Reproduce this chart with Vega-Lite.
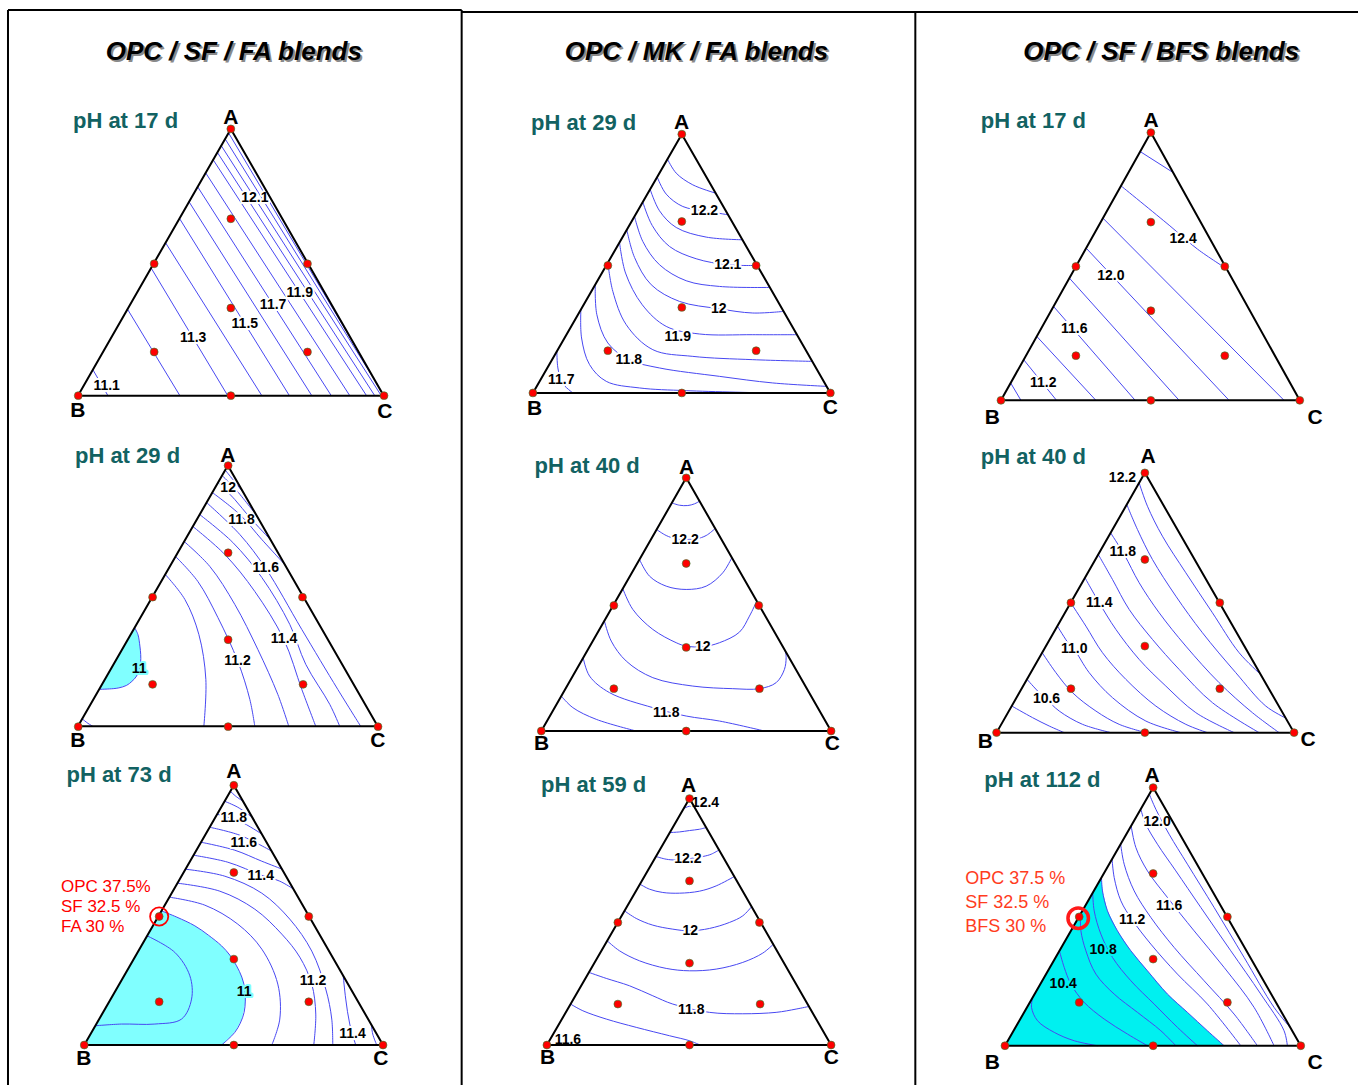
{
"$schema": "https://vega.github.io/schema/vega-lite/v6.json",
"width": 1359, "height": 1086,
"autosize": {"type": "fit", "contains": "padding"},
"padding": 0,
"background": "white",
"config": {"view": {"stroke": null}, "text": {"font": "Liberation Sans"}},
"datasets": {
"frame": [
{"x":8,"y":10,"x2":462,"y2":10},{"x":462,"y":12,"x2":1359,"y2":12},{"x":8,"y":10,"x2":8,"y2":1086},{"x":462,"y":10,"x2":462,"y2":1086},{"x":916,"y":12,"x2":916,"y2":1086}],
"cyan": [
{"g":"P2","x":99.3,"yt":690,"yb":690},{"g":"P2","x":105,"yt":680,"yb":689.6},{"g":"P2","x":113.3,"yt":665.6,"yb":689.3},{"g":"P2","x":119,"yt":655.7,"yb":688.5},{"g":"P2","x":126.7,"yt":642.3,"yb":686},{"g":"P2","x":132,"yt":633,"yb":682},{"g":"P2","x":134.7,"yt":628.3,"yb":679},{"g":"P2","x":136.7,"yt":632.4,"yb":676.7},{"g":"P2","x":138,"yt":635,"yb":673},{"g":"P2","x":139,"yt":640.9,"yb":670},{"g":"P2","x":140,"yt":646.7,"yb":666},{"g":"P2","x":140.8,"yt":655,"yb":660},
{"g":"P3","x":84.3,"yt":1046,"yb":1046},{"g":"P3","x":95,"yt":1027.4,"yb":1046},{"g":"P3","x":110,"yt":1001.4,"yb":1046},{"g":"P3","x":125,"yt":975.3,"yb":1046},{"g":"P3","x":140,"yt":949.3,"yb":1046},{"g":"P3","x":150,"yt":931.9,"yb":1046},{"g":"P3","x":161.6,"yt":911.7,"yb":1046},{"g":"P3","x":177,"yt":918,"yb":1046},{"g":"P3","x":195,"yt":926.7,"yb":1046},{"g":"P3","x":208.5,"yt":936,"yb":1046},{"g":"P3","x":221.7,"yt":946.7,"yb":1046},{"g":"P3","x":230,"yt":956,"yb":1038.5},{"g":"P3","x":236.7,"yt":966.7,"yb":1030.4},{"g":"P3","x":242,"yt":978,"yb":1019.8},{"g":"P3","x":245,"yt":990,"yb":1006.7},{"g":"P3","x":245.5,"yt":1000,"yb":1002},
{"g":"P9","x":1005.7,"yt":1046.7,"yb":1046.7},{"g":"P9","x":1020,"yt":1021.8,"yb":1046.7},{"g":"P9","x":1040,"yt":986.9,"yb":1046.7},{"g":"P9","x":1060,"yt":952.1,"yb":1046.7},{"g":"P9","x":1080,"yt":917.2,"yb":1046.7},{"g":"P9","x":1095,"yt":891.1,"yb":1046.7},{"g":"P9","x":1102.3,"yt":878.3,"yb":1046.7},{"g":"P9","x":1103.3,"yt":891.7,"yb":1046.7},{"g":"P9","x":1108.3,"yt":911.7,"yb":1046.7},{"g":"P9","x":1118.3,"yt":931.7,"yb":1046.7},{"g":"P9","x":1131.7,"yt":951.7,"yb":1046.7},{"g":"P9","x":1148.3,"yt":971.7,"yb":1046.7},{"g":"P9","x":1168.3,"yt":995,"yb":1046.7},{"g":"P9","x":1188.3,"yt":1013.3,"yb":1046.7},{"g":"P9","x":1208.3,"yt":1031.7,"yb":1046.7},{"g":"P9","x":1225,"yt":1046.7,"yb":1046.7}],
"lines": [
{"id":"1a","i":0,"x":92.9,"y":370},{"id":"1a","i":1,"x":108,"y":396},
{"id":"1b","i":0,"x":127.6,"y":309.5},{"id":"1b","i":1,"x":180,"y":396},
{"id":"1c","i":0,"x":151.2,"y":268.2},{"id":"1c","i":1,"x":227.9,"y":396},
{"id":"1d","i":0,"x":165.7,"y":243},{"id":"1d","i":1,"x":262,"y":396},
{"id":"1e","i":0,"x":179.6,"y":218.6},{"id":"1e","i":1,"x":289.6,"y":396},
{"id":"1f","i":0,"x":189.2,"y":202},{"id":"1f","i":1,"x":312,"y":396},
{"id":"1g","i":0,"x":197.8,"y":187},{"id":"1g","i":1,"x":331.5,"y":396},
{"id":"1h","i":0,"x":205.8,"y":173},{"id":"1h","i":1,"x":350,"y":396},
{"id":"1i","i":0,"x":213.3,"y":159.9},{"id":"1i","i":1,"x":366.8,"y":396},
{"id":"1j","i":0,"x":217.5,"y":152.5},{"id":"1j","i":1,"x":375,"y":396},
{"id":"1k","i":0,"x":221.4,"y":145.8},{"id":"1k","i":1,"x":381.5,"y":396},
{"id":"1l","i":0,"x":225.3,"y":139},{"id":"1l","i":1,"x":377.7,"y":385},
{"id":"1m","i":0,"x":228.7,"y":133},{"id":"1m","i":1,"x":361.1,"y":356},
{"id":"2a","i":0,"x":165.4,"y":575},{"id":"2a","i":1,"x":185,"y":600},{"id":"2a","i":2,"x":199,"y":635},{"id":"2a","i":3,"x":206,"y":680},{"id":"2a","i":4,"x":204,"y":727},
{"id":"2b","i":0,"x":175.7,"y":557},{"id":"2b","i":1,"x":198,"y":582},{"id":"2b","i":2,"x":218,"y":618},{"id":"2b","i":3,"x":238,"y":662},{"id":"2b","i":4,"x":250,"y":700},{"id":"2b","i":5,"x":255,"y":727},
{"id":"2c","i":0,"x":184.3,"y":542},{"id":"2c","i":1,"x":210,"y":567},{"id":"2c","i":2,"x":235,"y":605},{"id":"2c","i":3,"x":258,"y":650},{"id":"2c","i":4,"x":278,"y":695},{"id":"2c","i":5,"x":289,"y":727},
{"id":"2d","i":0,"x":193,"y":527},{"id":"2d","i":1,"x":225,"y":555},{"id":"2d","i":2,"x":255,"y":592},{"id":"2d","i":3,"x":284,"y":640},{"id":"2d","i":4,"x":302,"y":690},{"id":"2d","i":5,"x":316,"y":727},
{"id":"2e","i":0,"x":199.8,"y":515},{"id":"2e","i":1,"x":233,"y":543},{"id":"2e","i":2,"x":262,"y":578},{"id":"2e","i":3,"x":290,"y":625},{"id":"2e","i":4,"x":306,"y":665},{"id":"2e","i":5,"x":330,"y":705},{"id":"2e","i":6,"x":340,"y":727},
{"id":"2f","i":0,"x":206.7,"y":503},{"id":"2f","i":1,"x":240,"y":535},{"id":"2f","i":2,"x":266,"y":569},{"id":"2f","i":3,"x":302,"y":630},{"id":"2f","i":4,"x":338,"y":690},{"id":"2f","i":5,"x":361,"y":727},
{"id":"2g","i":0,"x":212.5,"y":493},{"id":"2g","i":1,"x":240,"y":515},{"id":"2g","i":2,"x":262,"y":540},{"id":"2g","i":3,"x":284.9,"y":565},
{"id":"2h","i":0,"x":218.2,"y":483},{"id":"2h","i":1,"x":235,"y":500},{"id":"2h","i":2,"x":250,"y":518},{"id":"2h","i":3,"x":270.5,"y":540},
{"id":"2i","i":0,"x":222.3,"y":476},{"id":"2i","i":1,"x":236,"y":490},{"id":"2i","i":2,"x":256,"y":515},
{"id":"2j","i":0,"x":225.4,"y":470.5},{"id":"2j","i":1,"x":233,"y":480},{"id":"2j","i":2,"x":243.5,"y":493},
{"id":"2k","i":0,"x":134.7,"y":628.3},{"id":"2k","i":1,"x":138,"y":635},{"id":"2k","i":2,"x":140,"y":646.7},{"id":"2k","i":3,"x":140.8,"y":655},{"id":"2k","i":4,"x":140.7,"y":663.3},{"id":"2k","i":5,"x":139,"y":670},{"id":"2k","i":6,"x":136.7,"y":676.7},{"id":"2k","i":7,"x":132,"y":682},{"id":"2k","i":8,"x":126.7,"y":686},{"id":"2k","i":9,"x":119,"y":688.5},{"id":"2k","i":10,"x":113.3,"y":689.3},{"id":"2k","i":11,"x":99.3,"y":690},
{"id":"2l","i":0,"x":82.3,"y":719.5},{"id":"2l","i":1,"x":88,"y":724},{"id":"2l","i":2,"x":93,"y":727},
{"id":"3a","i":0,"x":161.6,"y":911.7},{"id":"3a","i":1,"x":177,"y":918},{"id":"3a","i":2,"x":195,"y":926.7},{"id":"3a","i":3,"x":208.5,"y":936},{"id":"3a","i":4,"x":221.7,"y":946.7},{"id":"3a","i":5,"x":230,"y":956},{"id":"3a","i":6,"x":236.7,"y":966.7},{"id":"3a","i":7,"x":242,"y":978},{"id":"3a","i":8,"x":245,"y":990},{"id":"3a","i":9,"x":245.5,"y":1002},{"id":"3a","i":10,"x":244.3,"y":1013.3},{"id":"3a","i":11,"x":240.5,"y":1024},{"id":"3a","i":12,"x":235,"y":1033.3},{"id":"3a","i":13,"x":228.5,"y":1040},{"id":"3a","i":14,"x":221.7,"y":1046},
{"id":"3b","i":0,"x":147.2,"y":936.7},{"id":"3b","i":1,"x":175,"y":953.3},{"id":"3b","i":2,"x":190,"y":976.7},{"id":"3b","i":3,"x":191.7,"y":1000},{"id":"3b","i":4,"x":181.7,"y":1020},{"id":"3b","i":5,"x":155,"y":1025},{"id":"3b","i":6,"x":121.7,"y":1025},{"id":"3b","i":7,"x":95.4,"y":1026.7},
{"id":"3c","i":0,"x":169.5,"y":898},{"id":"3c","i":1,"x":205,"y":906},{"id":"3c","i":2,"x":238,"y":925},{"id":"3c","i":3,"x":262,"y":950},{"id":"3c","i":4,"x":278,"y":985},{"id":"3c","i":5,"x":280,"y":1020},{"id":"3c","i":6,"x":272,"y":1046},
{"id":"3d","i":0,"x":177.6,"y":884},{"id":"3d","i":1,"x":220,"y":892},{"id":"3d","i":2,"x":255,"y":910},{"id":"3d","i":3,"x":282,"y":935},{"id":"3d","i":4,"x":300,"y":958},{"id":"3d","i":5,"x":312,"y":985},{"id":"3d","i":6,"x":316,"y":1015},{"id":"3d","i":7,"x":314,"y":1046},
{"id":"3e","i":0,"x":185.6,"y":870},{"id":"3e","i":1,"x":225,"y":877},{"id":"3e","i":2,"x":262,"y":894},{"id":"3e","i":3,"x":290,"y":920},{"id":"3e","i":4,"x":312,"y":952},{"id":"3e","i":5,"x":326,"y":990},{"id":"3e","i":6,"x":332,"y":1020},{"id":"3e","i":7,"x":333,"y":1046},
{"id":"3f","i":0,"x":193.7,"y":856},{"id":"3f","i":1,"x":228,"y":863},{"id":"3f","i":2,"x":261.7,"y":876},{"id":"3f","i":3,"x":280,"y":882},{"id":"3f","i":4,"x":293.9,"y":890},
{"id":"3g","i":0,"x":356,"y":1046},{"id":"3g","i":1,"x":350,"y":1025},{"id":"3g","i":2,"x":346,"y":1000},{"id":"3g","i":3,"x":343.4,"y":976},
{"id":"3h","i":0,"x":201.2,"y":843},{"id":"3h","i":1,"x":235,"y":851},{"id":"3h","i":2,"x":262,"y":862},{"id":"3h","i":3,"x":282.4,"y":870},
{"id":"3i","i":0,"x":377,"y":1046},{"id":"3i","i":1,"x":373,"y":1035},{"id":"3i","i":2,"x":371.6,"y":1025},
{"id":"3j","i":0,"x":209.8,"y":828},{"id":"3j","i":1,"x":240,"y":836},{"id":"3j","i":2,"x":272,"y":852},
{"id":"3k","i":0,"x":217.3,"y":815},{"id":"3k","i":1,"x":240,"y":822},{"id":"3k","i":2,"x":262.2,"y":835},
{"id":"3l","i":0,"x":224.8,"y":802},{"id":"3l","i":1,"x":238,"y":808},{"id":"3l","i":2,"x":252.4,"y":818},
{"id":"3m","i":0,"x":230.5,"y":792},{"id":"3m","i":1,"x":236,"y":797},{"id":"3m","i":2,"x":243.2,"y":802},
{"id":"4a","i":0,"x":668,"y":159.3},{"id":"4a","i":1,"x":676.7,"y":173.3},{"id":"4a","i":2,"x":693.3,"y":185},{"id":"4a","i":3,"x":716,"y":193.3},
{"id":"4b","i":0,"x":657.7,"y":177.3},{"id":"4b","i":1,"x":666.7,"y":194.3},{"id":"4b","i":2,"x":683.3,"y":206.7},{"id":"4b","i":3,"x":705,"y":211},{"id":"4b","i":4,"x":728.7,"y":215},
{"id":"4c","i":0,"x":650.7,"y":189.7},{"id":"4c","i":1,"x":660,"y":211},{"id":"4c","i":2,"x":676.7,"y":227.7},{"id":"4c","i":3,"x":706.7,"y":237.3},{"id":"4c","i":4,"x":743,"y":240},
{"id":"4d","i":0,"x":643.3,"y":202.3},{"id":"4d","i":1,"x":652.7,"y":225.7},{"id":"4d","i":2,"x":670,"y":246.7},{"id":"4d","i":3,"x":696.7,"y":259},{"id":"4d","i":4,"x":728.3,"y":265},{"id":"4d","i":5,"x":757.7,"y":265.7},
{"id":"4e","i":0,"x":635,"y":216.7},{"id":"4e","i":1,"x":643.3,"y":241.7},{"id":"4e","i":2,"x":660,"y":265},{"id":"4e","i":3,"x":686.7,"y":281},{"id":"4e","i":4,"x":720,"y":286.7},{"id":"4e","i":5,"x":770.3,"y":287.7},
{"id":"4f","i":0,"x":627.3,"y":230},{"id":"4f","i":1,"x":635,"y":257.7},{"id":"4f","i":2,"x":651.7,"y":285},{"id":"4f","i":3,"x":680,"y":301.7},{"id":"4f","i":4,"x":719.3,"y":309},{"id":"4f","i":5,"x":753.3,"y":313.3},{"id":"4f","i":6,"x":784,"y":311.7},
{"id":"4g","i":0,"x":620,"y":242.7},{"id":"4g","i":1,"x":626,"y":273.3},{"id":"4g","i":2,"x":642.7,"y":305},{"id":"4g","i":3,"x":666.7,"y":326.7},{"id":"4g","i":4,"x":700,"y":334.3},{"id":"4g","i":5,"x":753.3,"y":335},{"id":"4g","i":6,"x":797.7,"y":335},
{"id":"4h","i":0,"x":608.3,"y":263},{"id":"4h","i":1,"x":613.3,"y":291.7},{"id":"4h","i":2,"x":626.7,"y":325},{"id":"4h","i":3,"x":653.3,"y":350},{"id":"4h","i":4,"x":693.3,"y":356.7},{"id":"4h","i":5,"x":753.3,"y":360},{"id":"4h","i":6,"x":812.7,"y":361.7},
{"id":"4i","i":0,"x":595.7,"y":285},{"id":"4i","i":1,"x":597.3,"y":315},{"id":"4i","i":2,"x":608.3,"y":343.3},{"id":"4i","i":3,"x":629.3,"y":360},{"id":"4i","i":4,"x":660,"y":368.3},{"id":"4i","i":5,"x":720,"y":376.7},{"id":"4i","i":6,"x":773.3,"y":383.3},{"id":"4i","i":7,"x":827,"y":386.7},
{"id":"4j","i":0,"x":581.3,"y":309.7},{"id":"4j","i":1,"x":582,"y":338.3},{"id":"4j","i":2,"x":590,"y":365},{"id":"4j","i":3,"x":606.7,"y":381.7},{"id":"4j","i":4,"x":640,"y":388.3},{"id":"4j","i":5,"x":686.7,"y":391},{"id":"4j","i":6,"x":768.3,"y":393.3},
{"id":"4k","i":0,"x":557.3,"y":351.7},{"id":"4k","i":1,"x":558.3,"y":368.3},{"id":"4k","i":2,"x":562.7,"y":383.3},{"id":"4k","i":3,"x":573.3,"y":393.3},
{"id":"5a","i":0,"x":672.3,"y":503.3},{"id":"5a","i":1,"x":680,"y":505.7},{"id":"5a","i":2,"x":688.3,"y":506},{"id":"5a","i":3,"x":695,"y":504.3},{"id":"5a","i":4,"x":700,"y":501.7},
{"id":"5b","i":0,"x":657.1,"y":530},{"id":"5b","i":1,"x":666.7,"y":536},{"id":"5b","i":2,"x":676.7,"y":539.3},{"id":"5b","i":3,"x":696.7,"y":539.3},{"id":"5b","i":4,"x":706.7,"y":536},{"id":"5b","i":5,"x":715.7,"y":529},
{"id":"5c","i":0,"x":640,"y":560},{"id":"5c","i":1,"x":650,"y":576.7},{"id":"5c","i":2,"x":666.7,"y":586.7},{"id":"5c","i":3,"x":686.7,"y":590},{"id":"5c","i":4,"x":706.7,"y":586.7},{"id":"5c","i":5,"x":723.3,"y":573.3},{"id":"5c","i":6,"x":732.3,"y":558.3},
{"id":"5d","i":0,"x":623.3,"y":589.3},{"id":"5d","i":1,"x":633.3,"y":610},{"id":"5d","i":2,"x":653.3,"y":630},{"id":"5d","i":3,"x":676.7,"y":643.3},{"id":"5d","i":4,"x":686.7,"y":646.7},{"id":"5d","i":5,"x":703.3,"y":647.3},{"id":"5d","i":6,"x":720,"y":643.3},{"id":"5d","i":7,"x":740,"y":632.7},{"id":"5d","i":8,"x":750,"y":616.7},{"id":"5d","i":9,"x":757.3,"y":601.7},
{"id":"5e","i":0,"x":604.8,"y":621.3},{"id":"5e","i":1,"x":611.7,"y":641.7},{"id":"5e","i":2,"x":626.7,"y":661.7},{"id":"5e","i":3,"x":653.3,"y":678.3},{"id":"5e","i":4,"x":693.3,"y":686.7},{"id":"5e","i":5,"x":733.3,"y":689.3},{"id":"5e","i":6,"x":760,"y":689.3},{"id":"5e","i":7,"x":776.7,"y":683.3},{"id":"5e","i":8,"x":785,"y":670},{"id":"5e","i":9,"x":786.7,"y":658.3},{"id":"5e","i":10,"x":785.9,"y":651.7},
{"id":"5f","i":0,"x":583.6,"y":658.3},{"id":"5f","i":1,"x":590,"y":676.7},{"id":"5f","i":2,"x":610,"y":693.3},{"id":"5f","i":3,"x":653.3,"y":708.3},{"id":"5f","i":4,"x":686.7,"y":716.7},{"id":"5f","i":5,"x":720,"y":721.7},{"id":"5f","i":6,"x":765,"y":731.7},
{"id":"5g","i":0,"x":561.7,"y":696.7},{"id":"5g","i":1,"x":573.3,"y":708.3},{"id":"5g","i":2,"x":596.7,"y":720},{"id":"5g","i":3,"x":636.7,"y":731.7},
{"id":"6a","i":0,"x":684.2,"y":809.3},{"id":"6a","i":1,"x":690,"y":807},{"id":"6a","i":2,"x":695.2,"y":808.3},
{"id":"6b","i":0,"x":670.3,"y":833.3},{"id":"6b","i":1,"x":680,"y":832.7},{"id":"6b","i":2,"x":690,"y":831.3},{"id":"6b","i":3,"x":700,"y":830},{"id":"6b","i":4,"x":706.7,"y":828.3},
{"id":"6c","i":0,"x":656.5,"y":857.3},{"id":"6c","i":1,"x":666.7,"y":860},{"id":"6c","i":2,"x":676.7,"y":860.7},{"id":"6c","i":3,"x":703.3,"y":857.3},{"id":"6c","i":4,"x":711.7,"y":855},{"id":"6c","i":5,"x":719.6,"y":850.7},
{"id":"6d","i":0,"x":640.5,"y":885},{"id":"6d","i":1,"x":650,"y":890},{"id":"6d","i":2,"x":663.3,"y":893.3},{"id":"6d","i":3,"x":680,"y":894},{"id":"6d","i":4,"x":700,"y":892},{"id":"6d","i":5,"x":716.7,"y":886.7},{"id":"6d","i":6,"x":734.9,"y":877.3},
{"id":"6e","i":0,"x":625,"y":911.7},{"id":"6e","i":1,"x":636.7,"y":919.3},{"id":"6e","i":2,"x":653.3,"y":926},{"id":"6e","i":3,"x":673.3,"y":930},{"id":"6e","i":4,"x":690,"y":931.7},{"id":"6e","i":5,"x":710,"y":929.3},{"id":"6e","i":6,"x":730,"y":923.3},{"id":"6e","i":7,"x":743.3,"y":916.7},{"id":"6e","i":8,"x":752.3,"y":907.3},
{"id":"6f","i":0,"x":607.7,"y":941.7},{"id":"6f","i":1,"x":620,"y":951.7},{"id":"6f","i":2,"x":640,"y":961.7},{"id":"6f","i":3,"x":666.7,"y":969.3},{"id":"6f","i":4,"x":690,"y":971.7},{"id":"6f","i":5,"x":716.7,"y":970},{"id":"6f","i":6,"x":743.3,"y":963.3},{"id":"6f","i":7,"x":763.3,"y":954},{"id":"6f","i":8,"x":774,"y":945},
{"id":"6g","i":0,"x":589.4,"y":973.3},{"id":"6g","i":1,"x":606.7,"y":979.3},{"id":"6g","i":2,"x":630,"y":986.7},{"id":"6g","i":3,"x":653.3,"y":996.7},{"id":"6g","i":4,"x":673.3,"y":1005},{"id":"6g","i":5,"x":710,"y":1013.3},{"id":"6g","i":6,"x":743.3,"y":1014.7},{"id":"6g","i":7,"x":776.7,"y":1013.3},{"id":"6g","i":8,"x":796.7,"y":1010},{"id":"6g","i":9,"x":809.9,"y":1007.3},
{"id":"6h","i":0,"x":571,"y":1005},{"id":"6h","i":1,"x":583.3,"y":1011.7},{"id":"6h","i":2,"x":606.7,"y":1020},{"id":"6h","i":3,"x":636.7,"y":1028.3},{"id":"6h","i":4,"x":670,"y":1036.7},{"id":"6h","i":5,"x":690,"y":1041.7},{"id":"6h","i":6,"x":700.7,"y":1046},
{"id":"7a","i":0,"x":1141,"y":151.7},{"id":"7a","i":1,"x":1174,"y":172.7},
{"id":"7b","i":0,"x":1121.8,"y":186},{"id":"7b","i":1,"x":1170.7,"y":226},{"id":"7b","i":2,"x":1198.3,"y":249.3},{"id":"7b","i":3,"x":1227.9,"y":269.3},
{"id":"7c","i":0,"x":1103.7,"y":218.3},{"id":"7c","i":1,"x":1285,"y":400.7},
{"id":"7d","i":0,"x":1086.9,"y":248.3},{"id":"7d","i":1,"x":1230,"y":400.7},
{"id":"7e","i":0,"x":1070.1,"y":278.3},{"id":"7e","i":1,"x":1180,"y":400.7},
{"id":"7f","i":0,"x":1054.3,"y":306.7},{"id":"7f","i":1,"x":1136,"y":400.7},
{"id":"7g","i":0,"x":1037.5,"y":336.7},{"id":"7g","i":1,"x":1096.7,"y":400.7},
{"id":"7h","i":0,"x":1024.4,"y":360},{"id":"7h","i":1,"x":1057.3,"y":400.7},
{"id":"7i","i":0,"x":1011.4,"y":383.3},{"id":"7i","i":1,"x":1021.7,"y":400.7},
{"id":"8a","i":0,"x":1012.6,"y":706.7},{"id":"8a","i":1,"x":1033.3,"y":718.3},{"id":"8a","i":2,"x":1050,"y":726.7},{"id":"8a","i":3,"x":1065,"y":733.3},
{"id":"8b","i":0,"x":1027.8,"y":680},{"id":"8b","i":1,"x":1040,"y":693.3},{"id":"8b","i":2,"x":1047.3,"y":700},{"id":"8b","i":3,"x":1060,"y":711.7},{"id":"8b","i":4,"x":1083.3,"y":725},{"id":"8b","i":5,"x":1111.7,"y":733.3},
{"id":"8c","i":0,"x":1043,"y":653.3},{"id":"8c","i":1,"x":1056.7,"y":673.3},{"id":"8c","i":2,"x":1073.3,"y":693.3},{"id":"8c","i":3,"x":1096.7,"y":711.7},{"id":"8c","i":4,"x":1120,"y":725},{"id":"8c","i":5,"x":1146.7,"y":733.3},
{"id":"8d","i":0,"x":1058.2,"y":626.7},{"id":"8d","i":1,"x":1070,"y":645},{"id":"8d","i":2,"x":1075,"y":650},{"id":"8d","i":3,"x":1090,"y":673.3},{"id":"8d","i":4,"x":1113.3,"y":698.3},{"id":"8d","i":5,"x":1146.7,"y":721.7},{"id":"8d","i":6,"x":1181.7,"y":733.3},
{"id":"8e","i":0,"x":1071.5,"y":603.3},{"id":"8e","i":1,"x":1086.7,"y":626.7},{"id":"8e","i":2,"x":1103.3,"y":653.3},{"id":"8e","i":3,"x":1126.7,"y":680},{"id":"8e","i":4,"x":1156.7,"y":706.7},{"id":"8e","i":5,"x":1186.7,"y":725},{"id":"8e","i":6,"x":1208.3,"y":733.3},
{"id":"8f","i":0,"x":1085.8,"y":578.3},{"id":"8f","i":1,"x":1100,"y":603.3},{"id":"8f","i":2,"x":1116.7,"y":630},{"id":"8f","i":3,"x":1140,"y":660},{"id":"8f","i":4,"x":1166.7,"y":686.7},{"id":"8f","i":5,"x":1196.7,"y":713.3},{"id":"8f","i":6,"x":1235,"y":733.3},
{"id":"8g","i":0,"x":1099.1,"y":555},{"id":"8g","i":1,"x":1113.3,"y":580},{"id":"8g","i":2,"x":1130,"y":610},{"id":"8g","i":3,"x":1153.3,"y":640},{"id":"8g","i":4,"x":1180,"y":670},{"id":"8g","i":5,"x":1213.3,"y":703.3},{"id":"8g","i":6,"x":1260,"y":733.3},
{"id":"8h","i":0,"x":1111.4,"y":533.3},{"id":"8h","i":1,"x":1125,"y":555},{"id":"8h","i":2,"x":1140,"y":583.3},{"id":"8h","i":3,"x":1160,"y":613.3},{"id":"8h","i":4,"x":1186.7,"y":646.7},{"id":"8h","i":5,"x":1220,"y":683.3},{"id":"8h","i":6,"x":1253.3,"y":713.3},{"id":"8h","i":7,"x":1280,"y":733.3},
{"id":"8i","i":0,"x":1127.6,"y":505},{"id":"8i","i":1,"x":1138.3,"y":530},{"id":"8i","i":2,"x":1153.3,"y":560},{"id":"8i","i":3,"x":1176.7,"y":596.7},{"id":"8i","i":4,"x":1203.3,"y":633.3},{"id":"8i","i":5,"x":1236.7,"y":673.3},{"id":"8i","i":6,"x":1266.7,"y":706.7},{"id":"8i","i":7,"x":1286.6,"y":718.7},
{"id":"8j","i":0,"x":1140,"y":483.3},{"id":"8j","i":1,"x":1148.3,"y":506.7},{"id":"8j","i":2,"x":1163.3,"y":536.7},{"id":"8j","i":3,"x":1186.7,"y":573.3},{"id":"8j","i":4,"x":1213.3,"y":613.3},{"id":"8j","i":5,"x":1240,"y":653.3},{"id":"8j","i":6,"x":1261.5,"y":675},
{"id":"9a","i":0,"x":1150.2,"y":795},{"id":"9a","i":1,"x":1156.7,"y":810},{"id":"9a","i":2,"x":1170,"y":835},{"id":"9a","i":3,"x":1188.3,"y":865},{"id":"9a","i":4,"x":1215,"y":908.3},{"id":"9a","i":5,"x":1245,"y":958.3},{"id":"9a","i":6,"x":1275,"y":1008.3},{"id":"9a","i":7,"x":1292.5,"y":1030},
{"id":"9b","i":0,"x":1141.6,"y":810},{"id":"9b","i":1,"x":1146.7,"y":825},{"id":"9b","i":2,"x":1158.3,"y":845},{"id":"9b","i":3,"x":1176.7,"y":871.7},{"id":"9b","i":4,"x":1201.7,"y":908.3},{"id":"9b","i":5,"x":1231.7,"y":951.7},{"id":"9b","i":6,"x":1261.7,"y":995},{"id":"9b","i":7,"x":1285,"y":1031.7},{"id":"9b","i":8,"x":1288.3,"y":1046.7},
{"id":"9c","i":0,"x":1132,"y":826.7},{"id":"9c","i":1,"x":1136.7,"y":848.3},{"id":"9c","i":2,"x":1148.3,"y":871.7},{"id":"9c","i":3,"x":1168.3,"y":898.3},{"id":"9c","i":4,"x":1195,"y":931.7},{"id":"9c","i":5,"x":1225,"y":968.3},{"id":"9c","i":6,"x":1255,"y":1008.3},{"id":"9c","i":7,"x":1275,"y":1046.7},
{"id":"9d","i":0,"x":1121.5,"y":845},{"id":"9d","i":1,"x":1125,"y":865},{"id":"9d","i":2,"x":1135,"y":891.7},{"id":"9d","i":3,"x":1151.7,"y":918.3},{"id":"9d","i":4,"x":1175,"y":948.3},{"id":"9d","i":5,"x":1205,"y":981.7},{"id":"9d","i":6,"x":1235,"y":1015},{"id":"9d","i":7,"x":1258.3,"y":1046.7},
{"id":"9e","i":0,"x":1112.9,"y":860},{"id":"9e","i":1,"x":1115,"y":878.3},{"id":"9e","i":2,"x":1121.7,"y":901.7},{"id":"9e","i":3,"x":1133.3,"y":921},{"id":"9e","i":4,"x":1151.7,"y":945},{"id":"9e","i":5,"x":1178.3,"y":975},{"id":"9e","i":6,"x":1208.3,"y":1005},{"id":"9e","i":7,"x":1241.7,"y":1046.7},
{"id":"9f","i":0,"x":1102.3,"y":878.3},{"id":"9f","i":1,"x":1103.3,"y":891.7},{"id":"9f","i":2,"x":1108.3,"y":911.7},{"id":"9f","i":3,"x":1118.3,"y":931.7},{"id":"9f","i":4,"x":1131.7,"y":951.7},{"id":"9f","i":5,"x":1148.3,"y":971.7},{"id":"9f","i":6,"x":1168.3,"y":995},{"id":"9f","i":7,"x":1188.3,"y":1013.3},{"id":"9f","i":8,"x":1208.3,"y":1031.7},{"id":"9f","i":9,"x":1225,"y":1046.7},
{"id":"9g","i":0,"x":1093.5,"y":893.7},{"id":"9g","i":1,"x":1095,"y":911.7},{"id":"9g","i":2,"x":1101.7,"y":935},{"id":"9g","i":3,"x":1113.3,"y":958.3},{"id":"9g","i":4,"x":1131.7,"y":981.7},{"id":"9g","i":5,"x":1155,"y":1005},{"id":"9g","i":6,"x":1178.3,"y":1028.3},{"id":"9g","i":7,"x":1198.3,"y":1046.7},
{"id":"9h","i":0,"x":1081.3,"y":915},{"id":"9h","i":1,"x":1081.7,"y":931.7},{"id":"9h","i":2,"x":1086.7,"y":951.7},{"id":"9h","i":3,"x":1096.7,"y":975},{"id":"9h","i":4,"x":1115,"y":995},{"id":"9h","i":5,"x":1138.3,"y":1013.3},{"id":"9h","i":6,"x":1161.7,"y":1031.7},{"id":"9h","i":7,"x":1176.7,"y":1046.7},
{"id":"9i","i":0,"x":1060.2,"y":951.7},{"id":"9i","i":1,"x":1065,"y":968.3},{"id":"9i","i":2,"x":1071.7,"y":985},{"id":"9i","i":3,"x":1085,"y":1003.3},{"id":"9i","i":4,"x":1105,"y":1020},{"id":"9i","i":5,"x":1128.3,"y":1035},{"id":"9i","i":6,"x":1148.3,"y":1046.7},
{"id":"9j","i":0,"x":1033.5,"y":998.3},{"id":"9j","i":1,"x":1032.3,"y":1008.3},{"id":"9j","i":2,"x":1038.3,"y":1021.7},{"id":"9j","i":3,"x":1055,"y":1033.3},{"id":"9j","i":4,"x":1075,"y":1041.7},{"id":"9j","i":5,"x":1098.3,"y":1046.7}],
"tri": [
{"id":"P1","i":0,"x":231,"y":129},{"id":"P1","i":1,"x":78,"y":396},{"id":"P1","i":2,"x":384,"y":396},{"id":"P1","i":3,"x":231,"y":129},
{"id":"P2","i":0,"x":228,"y":466},{"id":"P2","i":1,"x":78,"y":727},{"id":"P2","i":2,"x":378,"y":727},{"id":"P2","i":3,"x":228,"y":466},
{"id":"P3","i":0,"x":234,"y":786},{"id":"P3","i":1,"x":84.3,"y":1046},{"id":"P3","i":2,"x":383.3,"y":1046},{"id":"P3","i":3,"x":234,"y":786},
{"id":"P4","i":0,"x":682.3,"y":134.3},{"id":"P4","i":1,"x":533.3,"y":393.3},{"id":"P4","i":2,"x":831,"y":393.3},{"id":"P4","i":3,"x":682.3,"y":134.3},
{"id":"P5","i":0,"x":686.7,"y":478.3},{"id":"P5","i":1,"x":541.7,"y":731.7},{"id":"P5","i":2,"x":831.7,"y":731.7},{"id":"P5","i":3,"x":686.7,"y":478.3},
{"id":"P6","i":0,"x":690,"y":799.3},{"id":"P6","i":1,"x":547.3,"y":1046},{"id":"P6","i":2,"x":831.7,"y":1046},{"id":"P6","i":3,"x":690,"y":799.3},
{"id":"P7","i":0,"x":1151.7,"y":132.7},{"id":"P7","i":1,"x":1001.7,"y":400.7},{"id":"P7","i":2,"x":1300.7,"y":400.7},{"id":"P7","i":3,"x":1151.7,"y":132.7},
{"id":"P8","i":0,"x":1145.7,"y":473.3},{"id":"P8","i":1,"x":997.3,"y":733.3},{"id":"P8","i":2,"x":1295,"y":733.3},{"id":"P8","i":3,"x":1145.7,"y":473.3},
{"id":"P9","i":0,"x":1154,"y":788.3},{"id":"P9","i":1,"x":1005.7,"y":1046.7},{"id":"P9","i":2,"x":1301.7,"y":1046.7},{"id":"P9","i":3,"x":1154,"y":788.3}],
"dots": [
{"x":231,"y":129},{"x":78.3,"y":396},{"x":384.3,"y":396},{"x":154.3,"y":264},{"x":307.7,"y":264},{"x":231,"y":396},{"x":231,"y":219},{"x":231,"y":308.3},{"x":154.3,"y":352.3},{"x":307.7,"y":352.3},
{"x":228.3,"y":466},{"x":78.3,"y":727.3},{"x":378.3,"y":727.3},{"x":152.7,"y":597.7},{"x":302.7,"y":597.7},{"x":228.3,"y":727.3},{"x":228.3,"y":553.3},{"x":228.3,"y":640.3},{"x":152.7,"y":685},{"x":303.3,"y":685},
{"x":234,"y":786},{"x":84.3,"y":1046},{"x":383.3,"y":1046},{"x":159.3,"y":917.3},{"x":309,"y":917.3},{"x":234,"y":1046},{"x":234,"y":873.3},{"x":234,"y":960},{"x":159.3,"y":1002.7},{"x":309,"y":1002.7},
{"x":682.3,"y":134.3},{"x":533.3,"y":393.3},{"x":831,"y":393.3},{"x":608.3,"y":265.7},{"x":756.7,"y":265.7},{"x":682.3,"y":393.3},{"x":682.3,"y":221.7},{"x":682.3,"y":307.7},{"x":608.3,"y":351},{"x":756.7,"y":351},
{"x":686.7,"y":478.3},{"x":541.7,"y":731.7},{"x":831.7,"y":731.7},{"x":614.3,"y":606},{"x":759.3,"y":606},{"x":686.7,"y":731.7},{"x":686.7,"y":564},{"x":686.7,"y":648},{"x":614.3,"y":689.3},{"x":760,"y":689.3},
{"x":690,"y":799.3},{"x":547.3,"y":1046},{"x":831.7,"y":1046},{"x":618.3,"y":923.3},{"x":760,"y":923.3},{"x":690,"y":1046},{"x":690,"y":881.7},{"x":690,"y":964},{"x":618.3,"y":1005},{"x":760.7,"y":1005},
{"x":1151.7,"y":132.7},{"x":1001.7,"y":400.7},{"x":1300.7,"y":400.7},{"x":1076.7,"y":266.7},{"x":1225.7,"y":266.7},{"x":1151.7,"y":400.7},{"x":1151.7,"y":222.3},{"x":1151.7,"y":311},{"x":1076.7,"y":356},{"x":1225.7,"y":356},
{"x":1145.7,"y":473.3},{"x":997.3,"y":733.3},{"x":1295,"y":733.3},{"x":1071.7,"y":603.3},{"x":1220.7,"y":603.3},{"x":1145.7,"y":733.3},{"x":1145.7,"y":560},{"x":1145.7,"y":646.7},{"x":1071.7,"y":689.3},{"x":1220.7,"y":689.3},
{"x":1154,"y":788.3},{"x":1005.7,"y":1046.7},{"x":1301.7,"y":1046.7},{"x":1080,"y":917.7},{"x":1228.3,"y":917.7},{"x":1154,"y":1046.7},{"x":1154,"y":874.3},{"x":1154,"y":960},{"x":1080,"y":1003.3},{"x":1228.3,"y":1003.3}],
"clabels": [
{"x":255,"y":198.3,"t":"12.1"},{"x":300,"y":293.3,"t":"11.9"},{"x":273.3,"y":305,"t":"11.7"},{"x":245,"y":324,"t":"11.5"},{"x":193.3,"y":338.3,"t":"11.3"},{"x":106.7,"y":386.7,"t":"11.1"},
{"x":228.3,"y":488.3,"t":"12"},{"x":241.7,"y":520,"t":"11.8"},{"x":266,"y":569,"t":"11.6"},{"x":284.3,"y":640,"t":"11.4"},{"x":237.7,"y":661.7,"t":"11.2"},
{"x":234,"y":818.5,"t":"11.8"},{"x":244,"y":844,"t":"11.6"},{"x":261,"y":876.5,"t":"11.4"},{"x":313.3,"y":981.7,"t":"11.2"},{"x":352.7,"y":1035,"t":"11.4"},
{"x":705,"y":211,"t":"12.2"},{"x":728.3,"y":265,"t":"12.1"},{"x":719.3,"y":309,"t":"12"},{"x":678.3,"y":337.3,"t":"11.9"},{"x":629.3,"y":360,"t":"11.8"},{"x":561.7,"y":380,"t":"11.7"},
{"x":685.7,"y":540,"t":"12.2"},{"x":703.3,"y":647.3,"t":"12"},{"x":666.7,"y":713.3,"t":"11.8"},
{"x":706,"y":804,"t":"12.4"},{"x":688.3,"y":859.3,"t":"12.2"},{"x":690.7,"y":931.7,"t":"12"},{"x":691.7,"y":1010.7,"t":"11.8"},{"x":568.3,"y":1040.7,"t":"11.6"},
{"x":1184,"y":239.3,"t":"12.4"},{"x":1111.7,"y":276,"t":"12.0"},{"x":1075,"y":329,"t":"11.6"},{"x":1044,"y":383.3,"t":"11.2"},
{"x":1123.3,"y":478.3,"t":"12.2"},{"x":1123.5,"y":553,"t":"11.8"},{"x":1100,"y":603.3,"t":"11.4"},{"x":1075,"y":650,"t":"11.0"},{"x":1047.3,"y":700,"t":"10.6"},
{"x":1158,"y":823,"t":"12.0"},{"x":1170,"y":906.5,"t":"11.6"},{"x":1133,"y":921,"t":"11.2"}],
"clabelsLight": [
{"x":139.3,"y":669.3,"t":"11"},{"x":244.3,"y":992.7,"t":"11"}],
"clabelsDeep": [
{"x":1104,"y":951,"t":"10.8"},{"x":1064,"y":985,"t":"10.4"}],
"vlabels": [
{"x":231,"y":118,"t":"A"},{"x":78,"y":411,"t":"B"},{"x":385,"y":412,"t":"C"},
{"x":228,"y":456,"t":"A"},{"x":78,"y":742,"t":"B"},{"x":378,"y":742,"t":"C"},
{"x":234,"y":773,"t":"A"},{"x":84,"y":1060,"t":"B"},{"x":381,"y":1060,"t":"C"},
{"x":682,"y":123,"t":"A"},{"x":535,"y":409,"t":"B"},{"x":831,"y":408,"t":"C"},
{"x":687,"y":468,"t":"A"},{"x":542,"y":745,"t":"B"},{"x":833,"y":745,"t":"C"},
{"x":689,"y":787,"t":"A"},{"x":548,"y":1059,"t":"B"},{"x":832,"y":1059,"t":"C"},
{"x":1152,"y":121,"t":"A"},{"x":993,"y":418,"t":"B"},{"x":1316,"y":418,"t":"C"},
{"x":1149,"y":457,"t":"A"},{"x":986,"y":743,"t":"B"},{"x":1309,"y":741,"t":"C"},
{"x":1153,"y":777,"t":"A"},{"x":993,"y":1064,"t":"B"},{"x":1316,"y":1064,"t":"C"}],
"ptitles": [
{"x":73,"y":121,"t":"pH at 17 d"},{"x":75,"y":456.5,"t":"pH at 29 d"},{"x":66.5,"y":776,"t":"pH at 73 d"},
{"x":531.5,"y":123.5,"t":"pH at 29 d"},{"x":535,"y":466.5,"t":"pH at 40 d"},{"x":541.5,"y":786,"t":"pH at 59 d"},
{"x":981.5,"y":121,"t":"pH at 17 d"},{"x":981.5,"y":457.5,"t":"pH at 40 d"},{"x":985,"y":781,"t":"pH at 112 d"}],
"ctitles": [
{"x":234,"y":52,"t":"OPC / SF / FA  blends"},{"x":697,"y":52,"t":"OPC / MK / FA  blends"},{"x":1162,"y":52,"t":"OPC / SF / BFS blends"}]
},
"encoding": {
"x": {"field": "x", "type": "quantitative", "scale": {"domain": [0, 1359], "nice": false, "zero": false}, "axis": null},
"y": {"field": "y", "type": "quantitative", "scale": {"domain": [0, 1086], "nice": false, "zero": false, "reverse": true}, "axis": null}
},
"layer": [
{"data": {"name": "frame"}, "mark": {"type": "rule", "color": "black", "strokeWidth": 2},
 "encoding": {"x2": {"field": "x2"}, "y2": {"field": "y2"}}},
{"data": {"name": "cyan"}, "mark": {"type": "area", "opacity": 1},
 "encoding": {
  "y": {"field": "yt", "type": "quantitative", "stack": null, "scale": {"domain": [0, 1086], "nice": false, "zero": false, "reverse": true}, "axis": null},
  "y2": {"field": "yb"},
  "detail": {"field": "g"},
  "color": {"field": "g", "type": "nominal", "scale": {"domain": ["P2", "P3", "P9"], "range": ["#80ffff", "#80ffff", "#00f0f0"]}, "legend": null}}},
{"data": {"name": "lines"}, "mark": {"type": "line", "color": "#4848f2", "strokeWidth": 1, "interpolate": "catmull-rom"},
 "encoding": {"detail": {"field": "id"}, "order": {"field": "i", "type": "quantitative"}}},
{"data": {"name": "clabels"}, "mark": {"type": "text", "fontSize": 14, "fontWeight": "bold", "fill": "white", "stroke": "white", "strokeWidth": 4, "strokeJoin": "round", "baseline": "middle", "align": "center"},
 "encoding": {"text": {"field": "t"}}},
{"data": {"name": "clabelsLight"}, "mark": {"type": "text", "fontSize": 14, "fontWeight": "bold", "fill": "#80ffff", "stroke": "#80ffff", "strokeWidth": 4, "strokeJoin": "round", "baseline": "middle", "align": "center"},
 "encoding": {"text": {"field": "t"}}},
{"data": {"name": "clabelsDeep"}, "mark": {"type": "text", "fontSize": 14, "fontWeight": "bold", "fill": "#00f0f0", "stroke": "#00f0f0", "strokeWidth": 4, "strokeJoin": "round", "baseline": "middle", "align": "center"},
 "encoding": {"text": {"field": "t"}}},
{"data": {"name": "tri"}, "mark": {"type": "line", "color": "black", "strokeWidth": 2, "strokeCap": "round", "strokeJoin": "miter"},
 "encoding": {"detail": {"field": "id"}, "order": {"field": "i", "type": "quantitative"}}},
{"data": {"name": "dots"}, "mark": {"type": "point", "shape": "circle", "filled": true, "fill": "#ff0000", "stroke": "#2f7d2f", "strokeWidth": 0.6, "size": 62, "opacity": 1}},
{"data": {"name": "clabels"}, "mark": {"type": "text", "fontSize": 14, "fontWeight": "bold", "color": "black", "baseline": "middle", "align": "center"},
 "encoding": {"text": {"field": "t"}}},
{"data": {"name": "clabelsLight"}, "mark": {"type": "text", "fontSize": 14, "fontWeight": "bold", "color": "black", "baseline": "middle", "align": "center"},
 "encoding": {"text": {"field": "t"}}},
{"data": {"name": "clabelsDeep"}, "mark": {"type": "text", "fontSize": 14, "fontWeight": "bold", "color": "black", "baseline": "middle", "align": "center"},
 "encoding": {"text": {"field": "t"}}},
{"data": {"name": "vlabels"}, "mark": {"type": "text", "fontSize": 21, "fontWeight": "bold", "color": "black", "baseline": "middle", "align": "center"},
 "encoding": {"text": {"field": "t"}}},
{"data": {"name": "ptitles"}, "mark": {"type": "text", "fontSize": 22, "fontWeight": "bold", "color": "#126262", "baseline": "middle", "align": "left"},
 "encoding": {"text": {"field": "t"}}},
{"data": {"name": "ctitles"}, "mark": {"type": "text", "fontSize": 26, "fontWeight": "bold", "fontStyle": "italic", "color": "#8a8a8a", "baseline": "middle", "align": "center", "dx": 2, "dy": 2},
 "encoding": {"text": {"field": "t"}}},
{"data": {"name": "ctitles"}, "mark": {"type": "text", "fontSize": 26, "fontWeight": "bold", "fontStyle": "italic", "color": "black", "baseline": "middle", "align": "center"},
 "encoding": {"text": {"field": "t"}}},
{"data": {"values": [{"x":61,"y":887.5,"t":"OPC 37.5%"},{"x":61,"y":907.5,"t":"SF 32.5 %"},{"x":61,"y":927.5,"t":"FA 30 %"}]},
 "mark": {"type": "text", "fontSize": 17, "color": "#ff0000", "baseline": "middle", "align": "left"},
 "encoding": {"text": {"field": "t"}}},
{"data": {"values": [{"x":966,"y":879.5,"t":"OPC 37.5 %"},{"x":966,"y":903.5,"t":"SF 32.5 %"},{"x":966,"y":927.5,"t":"BFS  30 %"}]},
 "mark": {"type": "text", "fontSize": 18, "color": "#ff3c1e", "baseline": "middle", "align": "left"},
 "encoding": {"text": {"field": "t"}}},
{"data": {"values": [{"x":159.3,"y":917.3}]},
 "mark": {"type": "point", "shape": "circle", "filled": false, "stroke": "#ff0000", "strokeWidth": 1.8, "size": 330, "opacity": 1}},
{"data": {"values": [{"x":1079,"y":919}]},
 "mark": {"type": "point", "shape": "circle", "filled": false, "stroke": "#ff1a1a", "strokeWidth": 3.5, "size": 420, "opacity": 1}}
]
}
